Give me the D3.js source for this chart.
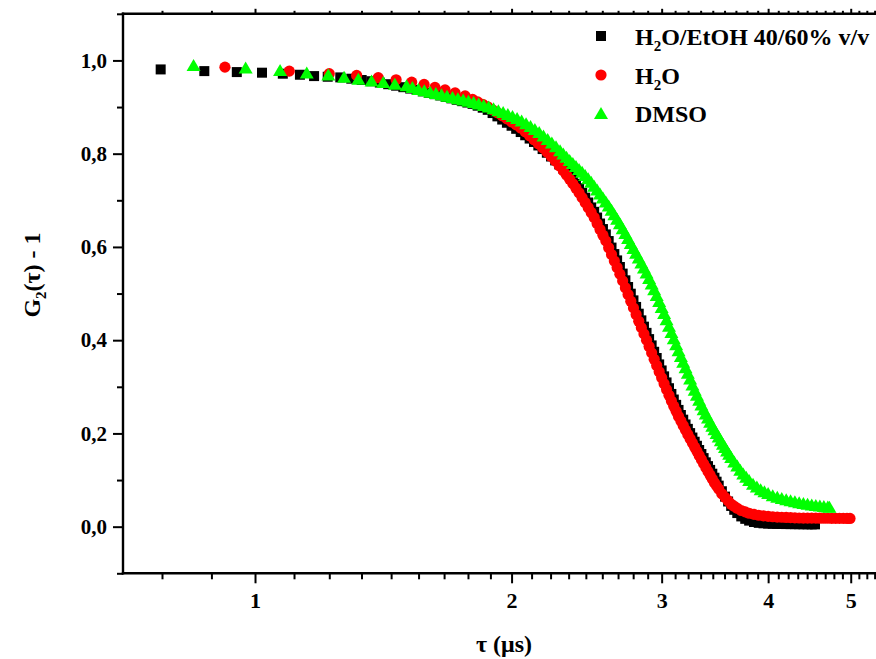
<!DOCTYPE html>
<html>
<head>
<meta charset="utf-8">
<script src="https://cdn.jsdelivr.net/npm/d3@7/dist/d3.min.js"></script>
<style>
  html, body { margin: 0; padding: 0; background: #ffffff; }
  svg { display: block; font-family: "Liberation Serif", "Times New Roman", serif; font-weight: bold; }
</style>
</head>
<body>
<svg id="chart" width="876" height="659"></svg>
<script>
// Intensity autocorrelation G2(tau) - 1 for three solvents
const seriesLabels = ["H2O/EtOH 40/60% v/v", "H2O", "DMSO"];

// H2O/EtOH 40/60 % v/v (black squares)
const tauEtOH = [
  0.775, 0.872, 0.952, 1.019, 1.078, 1.129, 1.173, 1.217, 1.259, 1.297,
  1.334, 1.369, 1.401, 1.433, 1.464, 1.493, 1.521, 1.548, 1.574,
  1.600, 1.625, 1.650, 1.675, 1.700, 1.725, 1.750, 1.775, 1.800, 1.825,
  1.850, 1.875, 1.900, 1.925, 1.950, 1.975, 2.000, 2.025, 2.050, 2.075,
  2.100, 2.125, 2.150, 2.175, 2.200, 2.225, 2.250, 2.275, 2.300,
  2.32, 2.34, 2.36, 2.38, 2.40, 2.42, 2.44, 2.46, 2.48, 2.50,
  2.52, 2.54, 2.56, 2.58, 2.60, 2.62, 2.64, 2.66, 2.68, 2.70,
  2.72, 2.74, 2.76, 2.78, 2.80, 2.82, 2.84, 2.86, 2.88, 2.90,
  2.92, 2.94, 2.96, 2.98, 3.00, 3.02, 3.04, 3.06, 3.08, 3.10,
  3.12, 3.14, 3.16, 3.18, 3.20, 3.22, 3.24, 3.26, 3.28, 3.30,
  3.32, 3.34, 3.36, 3.38, 3.40, 3.42, 3.44,
  3.46, 3.48, 3.50, 3.53, 3.56, 3.59, 3.62, 3.65, 3.68, 3.72,
  3.76, 3.80, 3.85, 3.90, 3.95, 4.00, 4.05, 4.10, 4.15, 4.20,
  4.25, 4.30, 4.35, 4.40, 4.45, 4.50, 4.54
];
const gEtOH = [
  0.9807, 0.9771, 0.9750, 0.9737, 0.9715, 0.9693, 0.9664, 0.9650, 0.9636, 0.9608,
  0.9580, 0.9554, 0.9525, 0.9490, 0.9458, 0.9426, 0.9396, 0.9368, 0.9336,
  0.9304, 0.9276, 0.9248, 0.9218, 0.9186, 0.9156, 0.9126, 0.9096, 0.9068, 0.9029,
  0.8986, 0.8940, 0.8871, 0.8800, 0.8732, 0.8663, 0.8599, 0.8533, 0.8464, 0.8395,
  0.8324, 0.8251, 0.8176, 0.8099, 0.8020, 0.7939, 0.7856, 0.7770, 0.7681,
  0.7607, 0.7531, 0.7452, 0.7355, 0.7259, 0.7159, 0.7056, 0.6953, 0.6847, 0.6753,
  0.6630, 0.6502, 0.6383, 0.6268, 0.6126, 0.5986, 0.5847, 0.5711, 0.5570, 0.5428,
  0.5284, 0.5140, 0.4997, 0.4854, 0.4713, 0.4568, 0.4425, 0.4290, 0.4157, 0.4023,
  0.3888, 0.3751, 0.3618, 0.3480, 0.3351, 0.3224, 0.3094, 0.2970, 0.2847, 0.2727,
  0.2613, 0.2504, 0.2395, 0.2295, 0.2192, 0.2098, 0.2007, 0.1912, 0.1822, 0.1735,
  0.1644, 0.1558, 0.1471, 0.1380, 0.1299, 0.1218, 0.1136,
  0.1050, 0.0965, 0.0880, 0.0760, 0.0645, 0.0540, 0.0445, 0.0362, 0.0292, 0.0220,
  0.0168, 0.0130, 0.0100, 0.0082, 0.0072, 0.0066, 0.0062, 0.0059, 0.0057, 0.0056,
  0.0055, 0.0054, 0.0053, 0.0052, 0.0051, 0.0050, 0.0050
];

// H2O (red circles)
const tauH2O = [
  0.922, 1.097, 1.222, 1.316, 1.395, 1.464, 1.527, 1.579, 1.626, 1.671,
  1.717, 1.764,
  1.800, 1.825, 1.850, 1.875, 1.900, 1.925, 1.950, 1.975, 2.000, 2.025,
  2.050, 2.075, 2.100, 2.125, 2.150, 2.175, 2.200, 2.225, 2.250, 2.275, 2.300,
  2.32, 2.34, 2.36, 2.38, 2.40, 2.42, 2.44, 2.46, 2.48, 2.50,
  2.52, 2.54, 2.56, 2.58, 2.60, 2.62, 2.64, 2.66, 2.68, 2.70,
  2.72, 2.74, 2.76, 2.78, 2.80, 2.82, 2.84, 2.86, 2.88, 2.90,
  2.92, 2.94, 2.96, 2.98, 3.00, 3.02, 3.04, 3.06, 3.08, 3.10,
  3.12, 3.14, 3.16, 3.18, 3.20, 3.22, 3.24, 3.26, 3.28, 3.30,
  3.32, 3.34, 3.36, 3.38, 3.40, 3.42, 3.44, 3.46, 3.48, 3.50,
  3.53, 3.56, 3.59, 3.62, 3.65, 3.68, 3.72, 3.76, 3.80, 3.85,
  3.90, 3.95, 4.00, 4.05, 4.10, 4.15, 4.20, 4.25, 4.30, 4.35,
  4.40, 4.45, 4.50, 4.55, 4.60, 4.65, 4.70, 4.75, 4.80, 4.85,
  4.90, 4.95, 4.99
];
const gH2O = [
  0.9856, 0.9771, 0.9715, 0.9679, 0.9629, 0.9586, 0.9535, 0.9486, 0.9422, 0.9368,
  0.9304, 0.9239,
  0.9164, 0.9111, 0.9059, 0.9005, 0.8940, 0.8876, 0.8812, 0.8748, 0.8683, 0.8619,
  0.8552, 0.8468, 0.8384, 0.8300, 0.8214, 0.8124, 0.8034, 0.7944, 0.7846, 0.7741, 0.7635,
  0.7543, 0.7451, 0.7358, 0.7260, 0.7162, 0.7057, 0.6953, 0.6846, 0.6739, 0.6631,
  0.6503, 0.6374, 0.6252, 0.6130, 0.5983, 0.5837, 0.5697, 0.5558, 0.5416, 0.5271,
  0.5125, 0.4980, 0.4836, 0.4692, 0.4550, 0.4406, 0.4269, 0.4135, 0.4001, 0.3863,
  0.3727, 0.3591, 0.3457, 0.3323, 0.3195, 0.3067, 0.2941, 0.2819, 0.2697, 0.2584,
  0.2474, 0.2364, 0.2267, 0.2169, 0.2070, 0.1978, 0.1886, 0.1793, 0.1705, 0.1617,
  0.1527, 0.1440, 0.1353, 0.1268, 0.1186, 0.1104, 0.1022, 0.0941, 0.0875, 0.0809,
  0.0705, 0.0629, 0.0554, 0.0482, 0.0438, 0.0395, 0.0347, 0.0318, 0.0288, 0.0265,
  0.0245, 0.0232, 0.0223, 0.0213, 0.0206, 0.0202, 0.0198, 0.0194, 0.0190, 0.0186,
  0.0185, 0.0184, 0.0184, 0.0183, 0.0182, 0.0181, 0.0181, 0.0180, 0.0179, 0.0178,
  0.0178, 0.0177, 0.0176
];

// DMSO (green triangles)
const tauDMSO = [
  0.847, 0.975, 1.070, 1.150, 1.219, 1.272, 1.322, 1.370, 1.414, 1.459,
  1.506,
  1.530, 1.555, 1.580, 1.605, 1.630, 1.655, 1.680, 1.705, 1.730, 1.755,
  1.780, 1.805, 1.830, 1.855, 1.880, 1.905, 1.930, 1.955, 1.980, 2.005,
  2.030, 2.055, 2.080, 2.105, 2.130, 2.155, 2.180, 2.205, 2.230, 2.255,
  2.280,
  2.30, 2.32, 2.34, 2.36, 2.38, 2.40, 2.42, 2.44, 2.46, 2.48,
  2.50, 2.52, 2.54, 2.56, 2.58, 2.60, 2.62, 2.64, 2.66, 2.68,
  2.70, 2.72, 2.74, 2.76, 2.78, 2.80, 2.82, 2.84, 2.86, 2.88,
  2.90, 2.92, 2.94, 2.96, 2.98, 3.00, 3.02, 3.04, 3.06, 3.08,
  3.10, 3.12, 3.14, 3.16, 3.18, 3.20, 3.22, 3.24, 3.26, 3.28,
  3.30, 3.32, 3.34, 3.36, 3.38, 3.40, 3.42, 3.44, 3.46, 3.48,
  3.50, 3.52, 3.54, 3.56, 3.58, 3.60, 3.62,
  3.65, 3.68, 3.71, 3.74, 3.77, 3.80, 3.84, 3.88, 3.92, 3.96,
  4.00, 4.05, 4.10, 4.15, 4.20, 4.25, 4.30, 4.35, 4.40, 4.45,
  4.50, 4.55, 4.60, 4.65, 4.70, 4.72
];
const gDMSO = [
  0.9904, 0.9850, 0.9792, 0.9743, 0.9696, 0.9651, 0.9608, 0.9572, 0.9535, 0.9501,
  0.9465,
  0.9428, 0.9389, 0.9358, 0.9330, 0.9302, 0.9274, 0.9245, 0.9216, 0.9187, 0.9160,
  0.9134, 0.9107, 0.9076, 0.9045, 0.9011, 0.8973, 0.8934, 0.8895, 0.8852, 0.8808,
  0.8764, 0.8714, 0.8653, 0.8591, 0.8530, 0.8463, 0.8389, 0.8316, 0.8242, 0.8160,
  0.8073,
  0.8003, 0.7934, 0.7865, 0.7800, 0.7736, 0.7672, 0.7615, 0.7544, 0.7473, 0.7397,
  0.7314, 0.7230, 0.7147, 0.7061, 0.6975, 0.6889, 0.6798, 0.6701, 0.6605, 0.6508,
  0.6402, 0.6296, 0.6190, 0.6084, 0.5979, 0.5875, 0.5771, 0.5667, 0.5560, 0.5450,
  0.5335, 0.5215, 0.5092, 0.4969, 0.4840, 0.4711, 0.4582, 0.4448, 0.4312, 0.4175,
  0.4041, 0.3913, 0.3786, 0.3658, 0.3538, 0.3419, 0.3299, 0.3176, 0.3052, 0.2935,
  0.2829, 0.2724, 0.2618, 0.2517, 0.2429, 0.2340, 0.2251, 0.2164, 0.2087, 0.2009,
  0.1932, 0.1854, 0.1779, 0.1708, 0.1636, 0.1565, 0.1494,
  0.1400, 0.1310, 0.1220, 0.1140, 0.1070, 0.1001, 0.0919, 0.0862, 0.0804, 0.0759,
  0.0720, 0.0674, 0.0644, 0.0614, 0.0587, 0.0565, 0.0544, 0.0522, 0.0506, 0.0491,
  0.0476, 0.0463, 0.0453, 0.0444, 0.0434, 0.0430
];

// Axis ranges and tick labels
const xDomain = [0.7, 5.5];
const yDomain = [-0.1, 1.1];
const xMajorTicks = [1, 2, 3, 4, 5];
const yMajorTicks = [0.0, 0.2, 0.4, 0.6, 0.8, 1.0];
const yMinorTicks = [-0.1, 0.1, 0.3, 0.5, 0.7, 0.9, 1.1];
const xTitle = "\u03C4 (\u03BCs)";

const svg = d3.select("#chart");
const W = 876, H = 659;
const plot = { left: 123, right: 886, top: 13.8, bottom: 573.3 };

const x = d3.scaleLog().domain(xDomain).range([plot.left, plot.right]);
const y = d3.scaleLinear().domain(yDomain).range([plot.bottom, plot.top]);

// minor ticks: eight subdivisions between consecutive integers
const xMinorTicks = [];
for (let n = 0; n <= 5; n++) {
  for (let j = 1; j <= 8; j++) {
    const v = n + j / 9;
    if (v > xDomain[0] && v < xDomain[1]) xMinorTicks.push(v);
  }
}

const axisStroke = 2.4;
const fmtY = d => d3.format(".1f")(d).replace(".", ",");

function styleAxis(g) {
  g.select(".domain").remove();
  g.selectAll(".tick line").attr("stroke", "#000").attr("stroke-width", 2);
  g.selectAll(".tick text")
    .attr("fill", "#000")
    .style("font-family", '"Liberation Serif", "Times New Roman", serif')
    .style("font-weight", "bold");
}

// bottom axis
svg.append("g").attr("transform", `translate(0,${plot.bottom})`)
  .call(d3.axisBottom(x).tickValues(xMinorTicks).tickSize(6).tickFormat(""))
  .call(styleAxis);
svg.append("g").attr("transform", `translate(0,${plot.bottom})`)
  .call(d3.axisBottom(x).tickValues(xMajorTicks).tickSize(10).tickPadding(9).tickFormat(d3.format("d")))
  .call(styleAxis)
  .call(g => g.selectAll(".tick text").style("font-size", "22px"));

// top axis (ticks only)
svg.append("g").attr("transform", `translate(0,${plot.top})`)
  .call(d3.axisTop(x).tickValues(xMinorTicks).tickSize(3).tickFormat(""))
  .call(styleAxis);
svg.append("g").attr("transform", `translate(0,${plot.top})`)
  .call(d3.axisTop(x).tickValues(xMajorTicks).tickSize(5).tickFormat(""))
  .call(styleAxis);

// left axis
svg.append("g").attr("transform", `translate(${plot.left},0)`)
  .call(d3.axisLeft(y).tickValues(yMinorTicks).tickSize(6).tickFormat(""))
  .call(styleAxis);
svg.append("g").attr("transform", `translate(${plot.left},0)`)
  .call(d3.axisLeft(y).tickValues(yMajorTicks).tickSize(10).tickPadding(6).tickFormat(fmtY))
  .call(styleAxis)
  .call(g => g.selectAll(".tick text").style("font-size", "21px"));

// frame lines
svg.append("line").attr("x1", plot.left).attr("x2", plot.left)
  .attr("y1", plot.top - axisStroke / 2).attr("y2", plot.bottom + axisStroke / 2)
  .attr("stroke", "#000").attr("stroke-width", axisStroke);
svg.append("line").attr("x1", plot.left - axisStroke / 2).attr("x2", W)
  .attr("y1", plot.bottom).attr("y2", plot.bottom)
  .attr("stroke", "#000").attr("stroke-width", axisStroke);
svg.append("line").attr("x1", plot.left - axisStroke / 2).attr("x2", W)
  .attr("y1", plot.top).attr("y2", plot.top)
  .attr("stroke", "#000").attr("stroke-width", axisStroke);

// markers
const squarePath = d3.symbol(d3.symbolSquare, 100)();
const circlePath = d3.symbol(d3.symbolCircle, Math.PI * 5.6 * 5.6)();
const trianglePath = "M0,-6L7,6L-7,6Z";

const series = [
  { tau: tauEtOH, g: gEtOH, path: squarePath, color: "#000000" },
  { tau: tauH2O, g: gH2O, path: circlePath, color: "#ff0000" },
  { tau: tauDMSO, g: gDMSO, path: trianglePath, color: "#00ff00" }
];

const marks = svg.append("g");
series.forEach(s => {
  const pts = s.tau.map((t, i) => ({ t, v: s.g[i] }));
  marks.append("g").selectAll("path").data(pts).join("path")
    .attr("d", s.path)
    .attr("transform", d => `translate(${x(d.t)},${y(d.v)})`)
    .attr("fill", s.color);
});

// legend
const legend = svg.append("g");
const legendRows = [
  { path: squarePath, color: "#000000", y: 36, parts: [["H", 0], ["2", 1], ["O/EtOH 40/60% v/v", 0]] },
  { path: circlePath, color: "#ff0000", y: 75, parts: [["H", 0], ["2", 1], ["O", 0]] },
  { path: trianglePath, color: "#00ff00", y: 113, parts: [["DMSO", 0]] }
];
legendRows.forEach(r => {
  legend.append("path").attr("d", r.path).attr("fill", r.color)
    .attr("transform", `translate(601,${r.y})`);
  const t = legend.append("text").attr("x", 635).attr("y", r.y + 8.5)
    .style("font-size", "24px").attr("fill", "#000");
  let shifted = false;
  r.parts.forEach(([txt, sub]) => {
    const ts = t.append("tspan").text(txt);
    if (sub) { ts.style("font-size", "15px").attr("dy", 6); shifted = true; }
    else if (shifted) { ts.attr("dy", -6); shifted = false; }
  });
});

// axis titles
svg.append("text").attr("x", 504).attr("y", 652).attr("text-anchor", "middle")
  .style("font-size", "24px").attr("fill", "#000").text(xTitle);

const yt = svg.append("text").attr("transform", "translate(40,275) rotate(-90)")
  .attr("text-anchor", "middle").style("font-size", "24px").attr("fill", "#000");
yt.append("tspan").text("G");
yt.append("tspan").text("2").style("font-size", "15px").attr("dy", 6);
yt.append("tspan").text("(\u03C4) - 1").attr("dy", -6);
</script>
</body>
</html>
